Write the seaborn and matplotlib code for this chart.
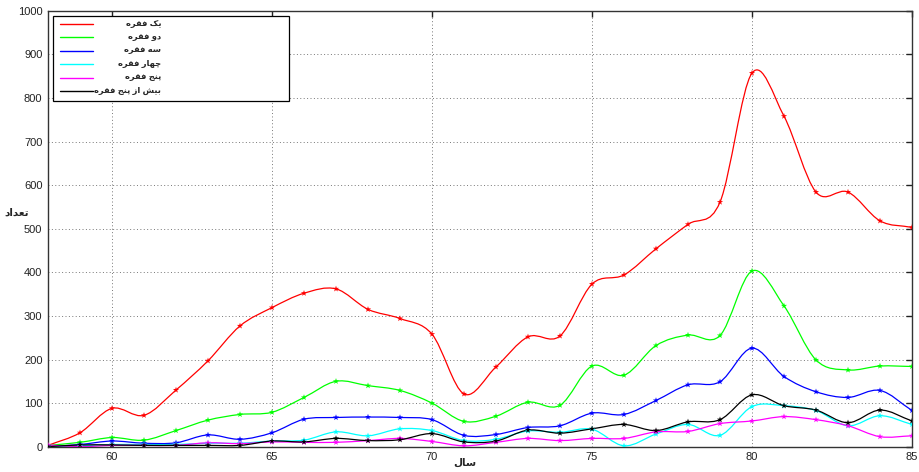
import numpy as np
import pandas as pd
import seaborn as sns
import matplotlib
matplotlib.use("Agg")
import matplotlib.pyplot as plt
from matplotlib.path import Path
from matplotlib.patches import PathPatch, Rectangle
from matplotlib.lines import Line2D

# data (years 58..85)
years = list(range(58, 86))
yek = [3, 32, 88, 72, 130, 197, 277, 319, 352, 362, 315, 294, 258, 121, 183, 252,
       254, 373, 394, 454, 510, 561, 857, 758, 584, 584, 518, 503]
do = [3, 10, 21, 15, 37, 61, 74, 79, 113, 150, 140, 129, 100, 58, 70, 102,
      95, 185, 164, 232, 256, 255, 403, 323, 199, 176, 185, 184]
se = [0, 5, 13, 8, 9, 27, 17, 32, 63, 67, 68, 67, 62, 26, 28, 44,
      48, 77, 74, 106, 142, 149, 226, 161, 126, 113, 129, 83]
chahar = [0, 2, 5, 5, 5, 8, 8, 13, 15, 34, 25, 41, 37, 14, 17, 36,
          33, 40, 2, 29, 51, 26, 92, 94, 83, 48, 71, 51]
panj = [4, 0, 3, 3, 3, 9, 7, 11, 10, 10, 14, 19, 12, 2, 10, 19,
        14, 19, 19, 34, 35, 53, 59, 69, 62, 48, 23, 25]
bish = [0, 4, 4, 3, 3, 3, 3, 13, 11, 19, 14, 16, 30, 11, 13, 38,
        31, 41, 51, 37, 57, 62, 119, 94, 84, 55, 84, 59]

labels = ["یک فقره", "دو فقره", "سه فقره", "چهار فقره", "پنج فقره", "بیش از پنج فقره"]
colors = ["#ff0000", "#00ff00", "#0000ff", "#00ffff", "#ff00ff", "#000000"]
ylabel = "تعداد"
xlabel = "سال"

# matplotlib has no arabic shaping, so pick presentation forms by hand
FORMS = {
    "ا": ("\uFE8D", "\uFE8E", None, None),
    "ب": ("\uFE8F", "\uFE90", "\uFE91", "\uFE92"),
    "پ": ("\uFB56", "\uFB57", "\uFB58", "\uFB59"),
    "ت": ("\uFE95", "\uFE96", "\uFE97", "\uFE98"),
    "ج": ("\uFE9D", "\uFE9E", "\uFE9F", "\uFEA0"),
    "چ": ("\uFB7A", "\uFB7B", "\uFB7C", "\uFB7D"),
    "د": ("\uFEA9", "\uFEAA", None, None),
    "ر": ("\uFEAD", "\uFEAE", None, None),
    "ز": ("\uFEAF", "\uFEB0", None, None),
    "س": ("\uFEB1", "\uFEB2", "\uFEB3", "\uFEB4"),
    "ش": ("\uFEB5", "\uFEB6", "\uFEB7", "\uFEB8"),
    "ع": ("\uFEC9", "\uFECA", "\uFECB", "\uFECC"),
    "ف": ("\uFED1", "\uFED2", "\uFED3", "\uFED4"),
    "ق": ("\uFED5", "\uFED6", "\uFED7", "\uFED8"),
    "ک": ("\uFB8E", "\uFB8F", "\uFB90", "\uFB91"),
    "ل": ("\uFEDD", "\uFEDE", "\uFEDF", "\uFEE0"),
    "ن": ("\uFEE5", "\uFEE6", "\uFEE7", "\uFEE8"),
    "ه": ("\uFEE9", "\uFEEA", "\uFEEB", "\uFEEC"),
    "و": ("\uFEED", "\uFEEE", None, None),
    "ی": ("\uFBFC", "\uFBFD", "\uFBFE", "\uFBFF"),
}


def shape(text):
    # joined forms, then reversed into visual (right to left) order
    out = []
    for i, c in enumerate(text):
        if c not in FORMS:
            out.append(c)
            continue
        prev = text[i - 1] if i > 0 else None
        nxt = text[i + 1] if i + 1 < len(text) else None
        join_prev = prev in FORMS and FORMS[prev][2] is not None
        join_next = nxt in FORMS and FORMS[c][2] is not None
        isol, fina, init, medi = FORMS[c]
        if join_prev and join_next:
            out.append(medi)
        elif join_prev:
            out.append(fina)
        elif join_next:
            out.append(init)
        else:
            out.append(isol)
    return "".join(reversed(out))


def smooth_path(x, y):
    # catmull-rom through the data points, drawn as cubic bezier segments
    x = np.asarray(x, float)
    y = np.asarray(y, float)
    pts = np.column_stack([x, y])
    ext = np.vstack([2 * pts[0] - pts[1], pts, 2 * pts[-1] - pts[-2]])
    verts = [pts[0]]
    codes = [Path.MOVETO]
    for i in range(1, len(ext) - 2):
        p0, p1, p2, p3 = ext[i - 1], ext[i], ext[i + 1], ext[i + 2]
        verts += [p1 + (p2 - p0) / 6, p2 - (p3 - p1) / 6, p2]
        codes += [Path.CURVE4] * 3
    return Path(verts, codes)


series = [yek, do, se, chahar, panj, bish]
df = pd.concat([pd.DataFrame({"year": years, "count": s, "series": lab})
                for s, lab in zip(series, labels)], ignore_index=True)

sns.set_style("white")
plt.rcParams["font.family"] = ["Liberation Sans", "DejaVu Sans"]

W, H = 919, 472
fig = plt.figure(figsize=(W / 100, H / 100), dpi=100)
ax_left, ax_top, ax_w, ax_h = 48, 10.7, 864, 436
ax = fig.add_axes([ax_left / W, 1 - (ax_top + ax_h) / H, ax_w / W, ax_h / H])

for s, col in zip(series, colors):
    ax.add_patch(PathPatch(smooth_path(years, s), fill=False, edgecolor=col, lw=0.9))

sns.scatterplot(data=df, x="year", y="count", hue="series", palette=colors,
                marker="*", s=22, linewidth=0, legend=False, ax=ax, zorder=3)

ax.set_xlim(58, 85)
ax.set_ylim(0, 1000)
ax.set_xticks(range(60, 86, 5))
ax.set_yticks(range(0, 1001, 100))
ax.grid(True, color="#777777", linestyle=(0, (1, 2.5)), lw=0.7)
ax.tick_params(direction="in", length=4.5, width=1, labelsize=8, colors="#222222",
               top=True, right=True, pad=4)
for sp in ax.spines.values():
    sp.set_color("#333333")
    sp.set_linewidth(1)

ax.set_ylabel(shape(ylabel), rotation=0, fontsize=7.5, fontweight="bold", va="center", ha="center")
ax.yaxis.set_label_coords(-0.036, 0.536)
ax.set_xlabel(shape(xlabel), fontsize=7.5, fontweight="bold", va="center", ha="center")
ax.xaxis.set_label_coords(0.483, -0.037)


# legend box, laid out in pixels from the axes' top left corner
def to_ax(px, py):
    return ((px - ax_left) / ax_w, 1 - (py - ax_top) / ax_h)


x0, y0 = to_ax(53, 16)
x1, y1 = to_ax(289, 100.7)
ax.add_patch(Rectangle((x0, y1), x1 - x0, y0 - y1, transform=ax.transAxes,
                       facecolor="white", edgecolor="black", lw=0.9, zorder=5))
for i, (lab, col) in enumerate(zip(labels, colors)):
    py = 24 + i * 13.45
    lx0, ly = to_ax(60, py)
    lx1, _ = to_ax(93, py)
    ax.add_line(Line2D([lx0, lx1], [ly, ly], color=col, lw=1, transform=ax.transAxes, zorder=6))
    tx, _ = to_ax(161, py)
    ax.text(tx, ly, shape(lab), transform=ax.transAxes, ha="right", va="center",
            fontsize=6, fontweight="bold", zorder=6)

fig.savefig("out.png", dpi=100, facecolor="white")
